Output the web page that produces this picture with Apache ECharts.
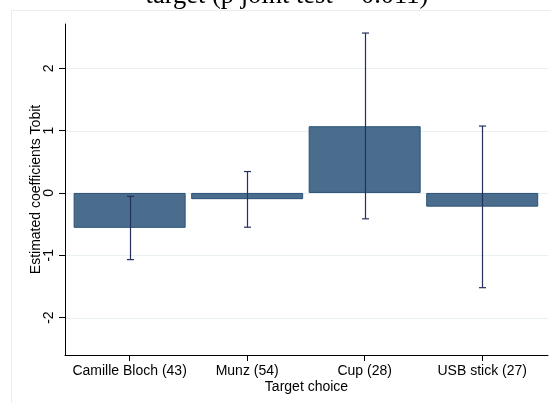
<!DOCTYPE html>
<html>
<head>
<meta charset="utf-8">
<script src="https://cdn.jsdelivr.net/npm/echarts@6/dist/echarts.min.js"></script>
<style>
  html, body { margin: 0; padding: 0; background: #fff; }
  #chart { width: 551px; height: 403px; }
</style>
</head>
<body>
<div id="chart"></div>
<script>
// Tobit coefficients per target choice, with 95% confidence intervals
const categories = ['Camille Bloch (43)', 'Munz (54)', 'Cup (28)', 'USB stick (27)'];
const coefficients = [-0.56, -0.10, 1.07, -0.22];
const ciLower = [-1.07, -0.55, -0.415, -1.52];
const ciUpper = [-0.055, 0.343, 2.565, 1.073];
const yTicks = [-2, -1, 0, 1, 2];
const titleText = 'target (p joint test = 0.011)';

const positions = categories.map((_, i) => i + 1);
const barData = positions.map((x, i) => [x, coefficients[i]]);
const ciData = positions.map((x, i) => [x, ciLower[i], ciUpper[i]]);
const gridData = yTicks.map(v => [1, v]);

const FONT = 'Liberation Sans';
const chart = echarts.init(document.getElementById('chart'), null, { renderer: 'canvas' });

chart.setOption({
  animation: false,
  backgroundColor: '#ffffff',
  graphic: [
    {
      type: 'rect',
      shape: { x: 11.5, y: 10.5, width: 600, height: 500 },
      style: { fill: 'none', stroke: '#ececec', lineWidth: 1 },
      z: 0
    },
    {
      type: 'text',
      x: 287, y: -4,
      style: {
        text: titleText,
        font: '26.5px "Liberation Serif", "DejaVu Serif", serif',
        fill: '#000',
        textAlign: 'center',
        textVerticalAlign: 'middle'
      },
      z: 10
    }
  ],
  grid: { left: 65, right: 3, top: 24, bottom: 48 },
  xAxis: {
    type: 'value',
    min: 0.45,
    max: 4.56,
    name: 'Target choice',
    nameLocation: 'middle',
    nameGap: 25,
    nameMoveOverlap: false,
    nameTextStyle: { fontFamily: FONT, fontSize: 14, color: '#000' },
    axisLine: { show: true, onZero: false, lineStyle: { color: '#000', width: 1 } },
    axisTick: { show: true, length: 6, customValues: positions, lineStyle: { color: '#000' } },
    axisLabel: {
      customValues: positions,
      formatter: v => categories[Math.round(v) - 1] || '',
      fontFamily: FONT, fontSize: 14, color: '#000', margin: 9
    },
    splitLine: { show: false }
  },
  yAxis: {
    type: 'value',
    min: -2.6,
    max: 2.71,
    name: 'Estimated coefficients Tobit',
    nameLocation: 'middle',
    nameGap: 22,
    nameMoveOverlap: false,
    nameTextStyle: { fontFamily: FONT, fontSize: 14, color: '#000' },
    axisLine: { show: true, onZero: false, lineStyle: { color: '#000', width: 1 } },
    axisTick: { show: true, length: 6, customValues: yTicks, lineStyle: { color: '#000' } },
    axisLabel: {
      customValues: yTicks,
      rotate: 90,
      fontFamily: FONT, fontSize: 14, color: '#000', margin: 9
    },
    splitLine: { show: false }
  },
  series: [
    {
      // horizontal gridlines at each labelled tick
      type: 'custom',
      z: 1,
      silent: true,
      data: gridData,
      renderItem: (params, api) => {
        const p = api.coord([api.value(0), api.value(1)]);
        const cs = params.coordSys;
        const y = Math.round(p[1]) + 0.5;
        return {
          type: 'line',
          shape: { x1: cs.x + 1, y1: y, x2: cs.x + cs.width, y2: y },
          style: { stroke: '#e8f0f2', lineWidth: 1 }
        };
      }
    },
    {
      type: 'bar',
      data: barData,
      barWidth: 112,
      z: 2,
      itemStyle: { color: '#4a6d8e', borderColor: '#2b5176', borderWidth: 1 }
    },
    {
      type: 'custom',
      z: 3,
      data: ciData,
      renderItem: (params, api) => {
        const x = api.value(0);
        const lo = api.coord([x, api.value(1)]);
        const hi = api.coord([x, api.value(2)]);
        const cx = Math.round(lo[0]) + 0.5;
        const half = 3.5;
        const style = { stroke: '#26305c', lineWidth: 1.2 };
        return {
          type: 'group',
          children: [
            { type: 'line', shape: { x1: cx, y1: lo[1], x2: cx, y2: hi[1] }, style },
            { type: 'line', shape: { x1: cx - half, y1: lo[1], x2: cx + half, y2: lo[1] }, style },
            { type: 'line', shape: { x1: cx - half, y1: hi[1], x2: cx + half, y2: hi[1] }, style }
          ]
        };
      }
    }
  ]
});
</script>
</body>
</html>
